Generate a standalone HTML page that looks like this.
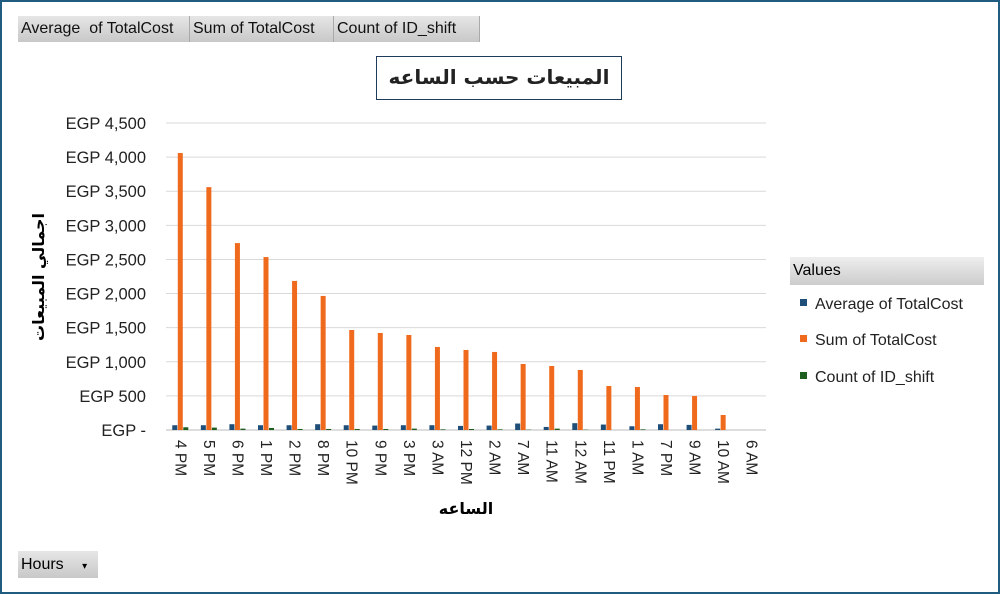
<!DOCTYPE html>
<html><head><meta charset="utf-8"><style>
body{margin:0;width:1000px;height:594px;overflow:hidden;background:#fff;font-family:"Liberation Sans","Noto Sans CJK SC",sans-serif}
#frame{position:absolute;left:0;top:0;width:996px;height:590px;border:2px solid #1f5c80;}
.btn{position:absolute;top:16px;height:26px;background:linear-gradient(#e6e6e6,#c8c8c8);border-right:1px solid #aaa;font-size:16px;line-height:26px;padding-left:3px;box-sizing:border-box;color:#111}
</style></head><body>
<div id="frame"></div>
<div class="btn" style="left:18px;width:172px">Average &nbsp;of TotalCost</div>
<div class="btn" style="left:190px;width:144px">Sum of TotalCost</div>
<div class="btn" style="left:334px;width:146px">Count of ID_shift</div>
<div style="position:absolute;left:376px;top:56px;width:246px;height:44px;border:1.5px solid #1f3b5a;box-sizing:border-box;text-align:center;font:bold 20px 'DejaVu Sans','Noto Sans CJK SC',sans-serif;line-height:40px;direction:rtl;color:#222">المبيعات حسب الساعه</div>
<div style="position:absolute;left:790px;top:257px;width:194px;height:28px;background:linear-gradient(#eee,#ccc);font-size:16px;line-height:28px;padding-left:3px;box-sizing:border-box">Values</div>
<div style="position:absolute;left:18px;top:551px;width:80px;height:27px;background:linear-gradient(#e6e6e6,#c8c8c8);font-size:16px;line-height:27px;padding-left:3px;box-sizing:border-box">Hours <span style="font-size:10px;margin-left:14px">▾</span></div>
<svg id="c" width="1000" height="594" style="position:absolute;left:0;top:0"></svg>
<script>
const categories=["4 PM","5 PM","6 PM","1 PM","2 PM","8 PM","10 PM","9 PM","3 PM","3 AM","12 PM","2 AM","7 AM","11 AM","12 AM","11 PM","1 AM","7 PM","9 AM","10 AM","6 AM"];
const sumValues=[4060,3560,2740,2535,2185,1965,1466,1422,1393,1217,1173,1144,968,938,880,645,630,513,498,220,0];
const avgValues=[70,70,85,70,70,85,70,65,70,70,60,65,95,45,100,80,55,85,75,20,0];
const countValues=[40,35,20,30,15,15,15,15,20,10,15,10,5,20,5,0,10,0,0,0,0];
const yTicks=[0,500,1000,1500,2000,2500,3000,3500,4000,4500];
const yLabels=["EGP -","EGP 500","EGP 1,000","EGP 1,500","EGP 2,000","EGP 2,500","EGP 3,000","EGP 3,500","EGP 4,000","EGP 4,500"];
const svg=document.getElementById('c');const NS='http://www.w3.org/2000/svg';
const y0=430,yTop=123,yMax=4500,x0=166,x1=766;
const Y=v=>y0-(v/yMax)*(y0-yTop);
const step=(x1-x0)/categories.length;
const X=i=>x0+step*(i+0.5);
function el(t,a,txt){const e=document.createElementNS(NS,t);for(const k in a)e.setAttribute(k,a[k]);if(txt!=null)e.textContent=txt;svg.appendChild(e);return e;}
yTicks.forEach((t,i)=>{
 const g=el('line',{x1:x0,x2:x1,y1:Y(t),y2:Y(t),stroke:i==0?'#bbb':'#d9d9d9','stroke-width':1});
 
 const l=el('text',{x:146,y:Y(t)+6,'text-anchor':'end','font-size':16.5,fill:'#222'},yLabels[i]);
 
});
categories.forEach((c,i)=>{
 const cx=X(i);
 const a=el('rect',{x:cx-8,y:Y(avgValues[i]),width:5,height:y0-Y(avgValues[i]),fill:'#1f4e79'});
 
 const s=el('rect',{x:cx-2.5,y:Y(sumValues[i]),width:5,height:y0-Y(sumValues[i]),fill:'#f06a1e'});
 
 const n=el('rect',{x:cx+3,y:Y(countValues[i]),width:5,height:y0-Y(countValues[i]),fill:'#1e5f20'});
 
 const t=el('text',{x:0,y:0,'font-size':15.5,fill:'#222',transform:`translate(${cx-5},440) rotate(90)`},c);
 
});
const xt=el('text',{x:466,y:514,'text-anchor':'middle','font-size':16,'font-weight':'bold','font-family':'DejaVu Sans,sans-serif'},'الساعه');

const yt=el('text',{x:0,y:0,'text-anchor':'middle','font-size':16,'font-weight':'bold','font-family':'DejaVu Sans,sans-serif',transform:'translate(44,277) rotate(-90)'},'اجمالي المبيعات');

[['#1f4e79','Average of TotalCost',304],['#f06a1e','Sum of TotalCost',340],['#1e5f20','Count of ID_shift',377]].forEach(d=>{
 const r=el('rect',{x:800,y:d[2]-5,width:7,height:7,fill:d[0]});
 
 const t=el('text',{x:815,y:d[2]+5,'font-size':16,fill:'#222'},d[1]);
 
});
</script>
</body></html>
